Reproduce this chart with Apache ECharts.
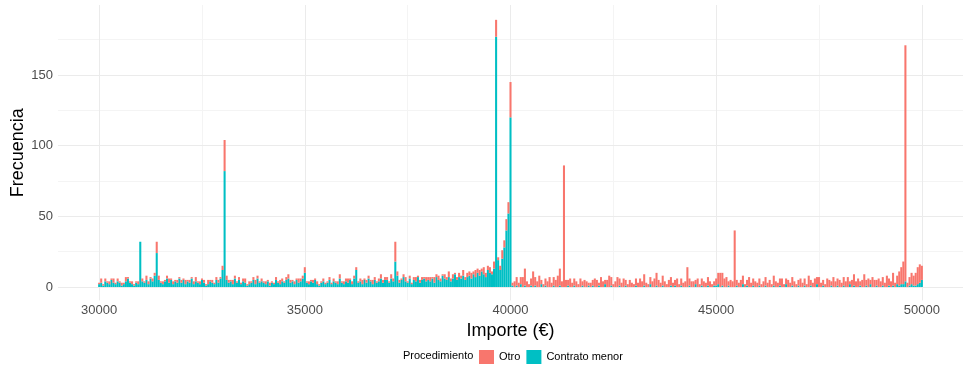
<!DOCTYPE html>
<html>
<head>
<meta charset="utf-8">
<script src="https://cdn.jsdelivr.net/npm/echarts@6/dist/echarts.min.js"></script>
<style>
  html, body { margin: 0; padding: 0; background: #fff; }
  #chart { width: 978px; height: 365px; }
</style>
</head>
<body>
<div id="chart"></div>
<script>
// histogram bins: width 50 €, centred on 30000, 30050, ... 50000
const binStart = 30000;
const binWidth = 50;

// Contrato menor counts per bin (rows of 20 bins = 1000 €)
const contratoMenor = [
  2,3,1,4,3,2,5,3,2,4,3,1,2,4,6,3,2,1,3,2,
  32,4,3,5,2,6,4,8,24,5,3,2,4,6,3,5,2,4,3,6,
  3,5,2,4,3,6,2,4,3,2,5,3,1,2,4,3,2,5,3,6,
  12,82,5,3,4,2,6,3,5,2,4,3,1,2,3,5,2,6,3,4,
  3,2,4,1,3,2,5,3,2,4,3,5,6,3,4,2,5,3,4,6,
  10,3,2,4,3,5,2,1,3,4,2,3,5,2,4,3,2,6,3,2,
  4,3,5,2,6,12,3,4,2,5,3,6,4,2,5,3,4,6,3,5,
  5,3,6,4,18,8,3,5,7,4,3,6,2,5,4,7,3,5,6,4,
  5,4,6,3,7,5,4,8,6,5,7,4,6,9,5,7,6,8,5,7,
  8,6,9,7,10,8,11,9,7,12,10,9,13,177,19,12,20,28,40,52,
  120,1,0,1,0,2,0,1,0,0,1,0,1,0,0,2,0,1,0,0,
  0,1,0,0,1,0,0,0,1,0,0,1,0,0,0,1,0,0,1,0,
  1,0,0,1,0,0,2,0,0,1,0,0,0,1,0,0,1,0,0,0,
  0,1,0,0,0,1,0,0,2,0,0,1,0,0,1,0,0,0,1,0,
  1,0,0,1,0,0,0,1,0,0,2,0,0,1,0,0,1,0,0,1,
  1,2,0,1,0,0,1,0,0,0,1,0,0,2,0,1,0,0,1,0,
  0,1,0,0,1,0,0,0,1,0,0,1,0,0,2,0,0,1,0,0,
  1,0,0,1,0,0,1,0,0,2,0,0,1,0,0,0,1,0,0,1,
  0,0,1,0,0,2,0,1,0,0,1,0,0,1,0,2,0,0,1,0,
  0,1,0,0,1,0,1,0,2,1,2,2,4,0,1,2,1,1,2,3,
  5
];

// Otro counts per bin
const otro = [
  1,3,1,2,1,2,1,3,1,2,1,2,1,3,1,1,2,1,1,2,
  0,2,1,3,2,1,2,2,8,3,1,2,1,2,3,1,2,1,2,1,
  2,1,3,1,2,1,2,3,1,2,1,2,1,3,1,2,1,2,2,1,
  3,22,3,2,1,3,2,1,2,1,2,3,1,2,1,2,3,2,1,2,
  1,2,1,2,1,1,2,1,3,2,1,2,3,2,1,2,1,3,2,2,
  4,1,2,1,2,1,2,1,1,2,1,1,2,1,2,1,2,3,1,2,
  2,3,1,2,2,2,1,2,3,1,2,2,1,3,2,1,2,3,2,2,
  2,1,3,2,14,3,2,1,2,3,1,2,1,2,3,1,2,2,1,3,
  2,3,1,4,2,3,2,1,3,2,4,2,3,1,2,3,2,4,2,3,
  3,4,2,5,3,4,2,5,3,3,4,2,5,12,2,3,6,5,8,8,
  25,2,4,6,3,5,7,12,4,2,5,11,6,4,8,3,2,5,4,7,
  3,6,5,8,12,4,86,5,4,6,3,5,4,2,6,3,5,4,2,3,
  4,6,5,2,7,4,3,5,8,6,2,4,7,5,3,6,4,2,5,3,
  2,5,3,6,4,8,3,2,5,4,6,9,5,3,7,4,2,5,6,3,
  4,6,2,5,3,4,14,5,4,4,3,6,2,5,4,3,6,4,2,3,
  5,8,10,9,6,7,3,5,4,40,4,3,5,6,2,4,7,3,5,4,
  3,5,2,4,6,3,5,2,7,4,3,5,6,2,4,5,3,6,4,2,
  4,6,3,5,2,8,4,3,6,5,7,3,4,2,6,5,3,7,4,5,
  5,3,6,4,7,2,5,8,4,6,3,5,9,4,6,3,7,5,4,6,
  4,6,3,8,5,4,9,3,6,10,12,16,167,3,6,8,7,9,12,13,
  10
];

const xTicks = [30000, 35000, 40000, 45000, 50000];
const xMinorTicks = [32500, 37500, 42500, 47500];
const yTicks = [0, 50, 100, 150];
const yMinorTicks = [25, 75, 125, 175];

// stacked rects: Contrato menor at the bottom, Otro on top
const cmData = [];
const otroData = [];
contratoMenor.forEach((c, i) => {
  const centre = binStart + i * binWidth;
  if (c > 0) cmData.push([centre, 0, c]);
  if (otro[i] > 0) otroData.push([centre, c, c + otro[i]]);
});

function renderBin(params, api) {
  const x = api.value(0);
  const p0 = api.coord([x - binWidth / 2, api.value(2)]);
  const p1 = api.coord([x + binWidth / 2, api.value(1)]);
  return {
    type: "rect",
    shape: { x: p0[0], y: p0[1], width: p1[0] - p0[0], height: p1[1] - p0[1] },
    style: { fill: api.visual("color") },
  };
}

const gridLine = (axis, v, color, width) => ({
  [axis]: v,
  lineStyle: { color: color, width: width, type: "solid" },
});

const chart = echarts.init(document.getElementById("chart"));
chart.setOption({
  animation: false,
  title: {
    text: "Procedimiento",
    left: 398,
    top: 345,
    textStyle: { fontSize: 11, fontWeight: "normal", color: "#000", fontFamily: "Liberation Sans, Arial" },
  },
  legend: {
    data: ["Otro", "Contrato menor"],
    left: 474,
    top: 345,
    icon: "rect",
    itemWidth: 15,
    itemHeight: 14,
    itemGap: 6,
    textStyle: { fontSize: 11, color: "#000", fontFamily: "Liberation Sans, Arial" },
  },
  grid: { left: 58, right: 15, top: 5, bottom: 64.6, outerBoundsMode: "none" },
  xAxis: {
    type: "value",
    min: 29000,
    max: 51000,
    name: "Importe (€)",
    nameLocation: "middle",
    nameGap: 18,
    nameTextStyle: { fontSize: 18, color: "#000", fontFamily: "Liberation Sans, Arial" },
    axisLine: { show: false },
    axisTick: { show: false },
    splitLine: { show: false },
    axisLabel: {
      customValues: xTicks,
      formatter: (v) => String(v),
      fontSize: 13,
      color: "#4d4d4d",
      margin: 4,
      fontFamily: "Liberation Sans, Arial",
    },
  },
  yAxis: {
    type: "value",
    min: -9.5,
    max: 199.5,
    name: "Frecuencia",
    nameLocation: "middle",
    nameGap: 31,
    nameMoveOverlap: false,
    nameTextStyle: { fontSize: 18, color: "#000", fontFamily: "Liberation Sans, Arial" },
    axisLine: { show: false },
    axisTick: { show: false },
    splitLine: { show: false },
    axisLabel: {
      customValues: yTicks,
      fontSize: 13,
      color: "#4d4d4d",
      margin: 5,
      fontFamily: "Liberation Sans, Arial",
    },
  },
  series: [
    {
      name: "grid",
      type: "line",
      data: [],
      z: 0,
      silent: true,
      markLine: {
        silent: true,
        z: 0,
        symbol: "none",
        label: { show: false },
        data: [
          ...yMinorTicks.map((v) => gridLine("yAxis", v, "#f4f4f4", 1)),
          ...xMinorTicks.map((v) => gridLine("xAxis", v, "#f4f4f4", 1)),
          ...yTicks.map((v) => gridLine("yAxis", v, "#ebebeb", 1)),
          ...xTicks.map((v) => gridLine("xAxis", v, "#ebebeb", 1)),
        ],
      },
    },
    {
      name: "Contrato menor",
      type: "custom",
      renderItem: renderBin,
      itemStyle: { color: "#00BFC4" },
      encode: { x: 0, y: [1, 2] },
      data: cmData,
      z: 3,
    },
    {
      name: "Otro",
      type: "custom",
      renderItem: renderBin,
      itemStyle: { color: "#F8766D" },
      encode: { x: 0, y: [1, 2] },
      data: otroData,
      z: 3,
    },
  ],
});
</script>
</body>
</html>
